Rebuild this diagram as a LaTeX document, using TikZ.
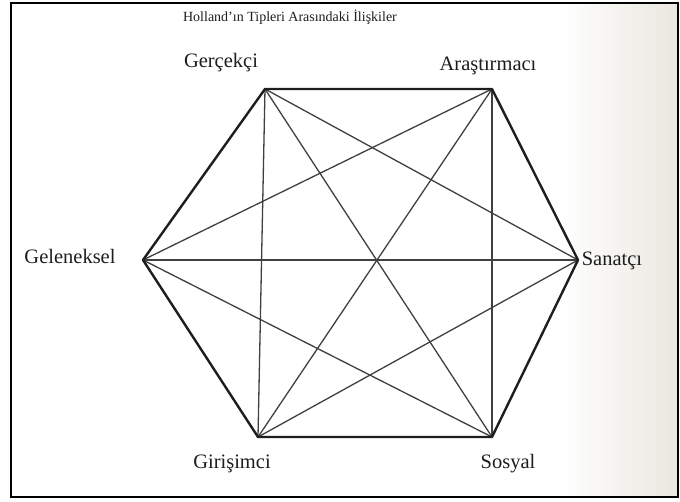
\documentclass[tikz,border=0pt]{standalone}
\usepackage{fontspec}
\setmainfont{Liberation Serif}
\definecolor{ink}{RGB}{30,30,30}
\definecolor{paper}{RGB}{234,231,223}
\tikzset{
  hexedge/.style={draw=ink, line width=2.4pt, line join=round},
  diag/.style={draw=ink!85, line width=1.3pt},
  lbl/.style={font=\fontsize{20.5}{22}\selectfont, text=ink, inner sep=0pt},
  ttl/.style={font=\fontsize{14}{16}\selectfont, text=ink, inner sep=0pt}
}
\begin{document}
\begin{tikzpicture}[x=1pt,y=-1pt]
\useasboundingbox (0,0) rectangle (680,501);
\fill[white] (0,0) rectangle (680,501);
\shade[left color=white, right color=paper] (560,3) rectangle (678,497);
\draw[black, line width=2.2pt] (11,3) rectangle (678,497);
% vertices
\coordinate (R) at (265,89);
\coordinate (I) at (492,89);
\coordinate (A) at (578,260);
\coordinate (S) at (492,437);
\coordinate (E) at (258,437);
\coordinate (C) at (143,260);
% labels
\node[ttl] (title) at (290,17) {Holland'ın Tipleri Arasındaki İlişkiler};
\node[lbl] (lR) at (221,63) {Gerçekçi};
\node[lbl] (lI) at (488,66) {Araştırmacı};
\node[lbl] (lA) at (612,261) {Sanatçı};
\node[lbl] (lS) at (508,464) {Sosyal};
\node[lbl] (lE) at (232,464) {Girişimci};
\node[lbl] (lC) at (70,256) {Geleneksel};
% diagonals
\draw[diag] (R) -- (A);
\draw[diag] (R) -- (S);
\draw[diag] (R) -- (E);
\draw[diag] (I) -- (S);
\draw[diag] (I) -- (E);
\draw[diag] (I) -- (C);
\draw[diag] (A) -- (E);
\draw[diag] (A) -- (C);
\draw[diag] (S) -- (C);
% hexagon
\draw[hexedge] (R) -- (I) -- (A) -- (S) -- (E) -- (C) -- cycle;
\end{tikzpicture}
\end{document}
